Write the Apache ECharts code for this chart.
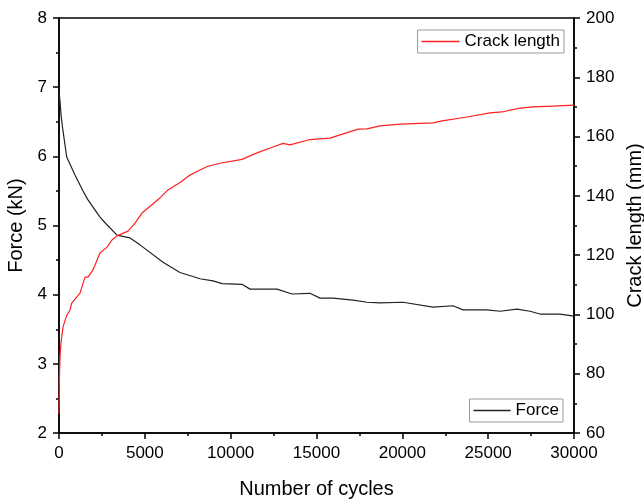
<!DOCTYPE html>
<html>
<head>
<meta charset="utf-8">
<script src="https://cdn.jsdelivr.net/npm/echarts@6/dist/echarts.min.js"></script>
<style>
  html, body { margin: 0; padding: 0; background: #fff; }
  #main { width: 644px; height: 500px; }
</style>
</head>
<body>
<div id="main"></div>
<script>
// force curve (kN) vs number of cycles
let forceCycles = [0, 58, 117, 215, 449, 932, 1398, 1689, 2388, 2680, 3379, 4136, 4718, 6058, 7048, 8213, 8970, 9495, 10660, 11126, 12699, 13573, 14621, 15204, 15961, 17126, 17942, 18699, 20039, 21786, 22951, 23534, 24932, 25689, 26680, 27437, 28019, 29184, 30000];
let forceValues = [6.95, 6.8, 6.6, 6.4, 5.99, 5.73, 5.5, 5.37, 5.12, 5.04, 4.86, 4.82, 4.72, 4.47, 4.32, 4.23, 4.2, 4.16, 4.15, 4.08, 4.08, 4.01, 4.02, 3.95, 3.95, 3.92, 3.89, 3.88, 3.89, 3.82, 3.84, 3.78, 3.78, 3.76, 3.79, 3.76, 3.72, 3.72, 3.69];

// crack length curve (mm) vs number of cycles
let crackCycles = [0, 20, 60, 117, 233, 350, 466, 641, 740, 1223, 1515, 1689, 1981, 2388, 2796, 3087, 3379, 4019, 4427, 4835, 5883, 6349, 7048, 7631, 8213, 8680, 9379, 10660, 11534, 12466, 13048, 13456, 14621, 15786, 17417, 17942, 18699, 19864, 21786, 22310, 23767, 25106, 25805, 26854, 27611, 28776, 30000];
let crackValues = [66.5, 78, 86, 90.4, 95.7, 98, 99.8, 101.5, 103.8, 107.2, 112.6, 112.6, 115, 120.7, 122.7, 125.1, 126.5, 128.1, 130.8, 134.2, 139.3, 142, 144.5, 147, 148.7, 150, 151, 152.3, 154.5, 156.5, 157.7, 157.2, 159, 159.5, 162.5, 162.6, 163.6, 164.2, 164.6, 165.3, 166.6, 168, 168.3, 169.6, 170, 170.3, 170.6];

let font = 'Liberation Sans, Arial, sans-serif';

function pairs(xs, ys) {
    let out = [];
    for (let i = 0; i < xs.length; i++) {
        out.push([xs[i], ys[i]]);
    }
    return out;
}

let chart = echarts.init(document.querySelector('#main'));

// shared axis look: black line, ticks pointing outward, minor ticks half-way
function axisStyle() {
    return {
        axisLine: { show: true, onZero: false, lineStyle: { color: '#000', width: 1.5 } },
        axisTick: { show: true, inside: false, length: 6, lineStyle: { color: '#000', width: 1.5 } },
        minorTick: { show: true, splitNumber: 2, length: 3, lineStyle: { color: '#000', width: 1.5 } },
        splitLine: { show: false },
        axisLabel: {
            color: '#000', fontSize: 17, fontFamily: font, margin: 12,
            formatter: function (v) { return String(v); }
        }
    };
}

let option = {
    animation: false,
    backgroundColor: '#fff',
    grid: {
        left: 59, right: 70, top: 18, bottom: 67,
        outerBoundsMode: 'none',
        containLabel: false,
        show: true, borderColor: '#000', borderWidth: 1.5
    },
    legend: [{
        data: ['Crack length'],
        right: 80, top: 30,
        icon: 'rect', itemWidth: 38, itemHeight: 1.5, itemGap: 6,
        padding: [3, 4, 3, 4],
        borderColor: '#999', borderWidth: 1,
        textStyle: { color: '#000', fontSize: 17, fontFamily: font }
    }, {
        data: ['Force'],
        right: 81, top: 399,
        icon: 'rect', itemWidth: 37, itemHeight: 1.5, itemGap: 6,
        padding: [3, 4, 3, 4],
        borderColor: '#999', borderWidth: 1,
        textStyle: { color: '#000', fontSize: 17, fontFamily: font }
    }],
    xAxis: Object.assign(axisStyle(), {
        type: 'value',
        min: 0, max: 30000, interval: 5000,
        name: 'Number of cycles',
        nameLocation: 'middle',
        nameGap: 46,
        nameTextStyle: { color: '#000', fontSize: 20, fontFamily: font }
    }),
    yAxis: [Object.assign(axisStyle(), {
        type: 'value',
        min: 2, max: 8, interval: 1,
        name: 'Force (kN)',
        nameLocation: 'middle',
        nameGap: 27,
        nameTextStyle: { color: '#000', fontSize: 20, fontFamily: font }
    }), Object.assign(axisStyle(), {
        type: 'value',
        position: 'right',
        min: 60, max: 200, interval: 20,
        name: 'Crack length (mm)',
        nameLocation: 'middle',
        nameGap: 51,
        nameTextStyle: { color: '#000', fontSize: 20, fontFamily: font }
    })],
    series: [{
        name: 'Force',
        type: 'line',
        yAxisIndex: 0,
        data: pairs(forceCycles, forceValues),
        symbol: 'none',
        itemStyle: { color: '#222' },
        lineStyle: { color: '#222', width: 1.2 }
    }, {
        name: 'Crack length',
        type: 'line',
        yAxisIndex: 1,
        data: pairs(crackCycles, crackValues),
        symbol: 'none',
        itemStyle: { color: '#ff2020' },
        lineStyle: { color: '#ff2020', width: 1.2 }
    }]
};

chart.setOption(option);
</script>
</body>
</html>
